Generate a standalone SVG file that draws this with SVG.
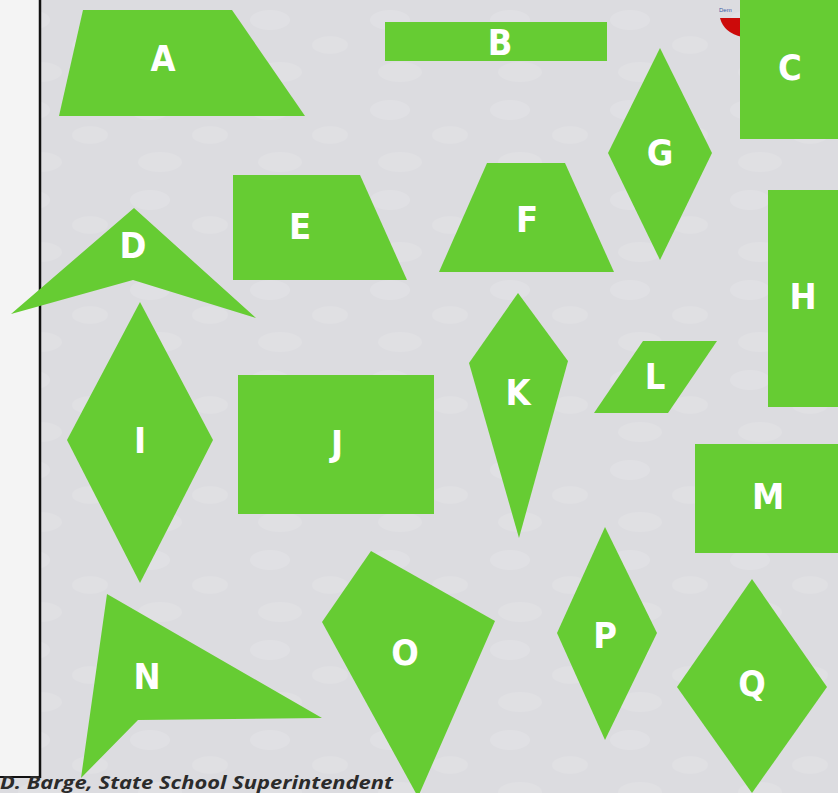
<svg xmlns="http://www.w3.org/2000/svg" width="838" height="793" viewBox="0 0 838 793">
<style>
.s{fill:#66cc33;}
.l{fill:#ffffff;font-family:"Liberation Sans Narrow","DejaVu Sans Condensed","Liberation Sans",sans-serif;font-weight:bold;font-size:36px;text-anchor:middle;dominant-baseline:central;}
.foot{fill:#2b2b2b;font-family:"Open Sans","Liberation Sans",sans-serif;font-weight:bold;font-style:italic;font-size:17px;}
</style>
<defs>
<pattern id="blobs" width="120" height="90" patternUnits="userSpaceOnUse">
<ellipse cx="30" cy="20" rx="20" ry="10" fill="#ffffff" opacity="0.12"/>
<ellipse cx="90" cy="45" rx="18" ry="9" fill="#ffffff" opacity="0.1"/>
<ellipse cx="40" cy="72" rx="22" ry="10" fill="#ffffff" opacity="0.11"/>
</pattern>
</defs>
<rect width="838" height="793" fill="#dcdce0"/>
<rect width="838" height="793" fill="url(#blobs)"/>
<g id="panel">
<rect x="0" y="0" width="40" height="777" fill="#f4f4f4"/>
<line x1="40" y1="0" x2="40" y2="778" stroke="#111" stroke-width="2.5"/>
<line x1="0" y1="777" x2="41" y2="777" stroke="#111" stroke-width="2"/>
</g>
<g id="badge">
<path d="M720,18 L742,18 L742,37 Q724,33 720,18 Z" fill="#cc0a0a"/>
<text x="719" y="12" font-family="Liberation Sans,sans-serif" font-size="6" fill="#3a5aa8">Dem</text>
</g>
<g id="A"><polygon class="s" points="83,10 232,10 305,116 59,116"/><text class="l" x="163" y="58">A</text></g>
<g id="B"><rect class="s" x="385" y="22" width="222" height="39"/><text class="l" x="500" y="42">B</text></g>
<g id="C"><rect class="s" x="740" y="0" width="98" height="139"/><text class="l" x="790" y="67">C</text></g>
<g id="G"><polygon class="s" points="660,48 712,153 660,260 608,153"/><text class="l" x="660" y="152">G</text></g>
<g id="E"><polygon class="s" points="233,175 360,175 407,280 233,280"/><text class="l" x="300" y="226">E</text></g>
<g id="F"><polygon class="s" points="487,163 565,163 614,272 439,272"/><text class="l" x="527" y="219">F</text></g>
<g id="D"><polygon class="s" points="134,208 256,318 133,280 11,314"/><text class="l" x="133" y="245">D</text></g>
<g id="H"><rect class="s" x="768" y="190" width="70" height="217"/><text class="l" x="803" y="296">H</text></g>
<g id="I"><polygon class="s" points="140,302 213,440 140,583 67,440"/><text class="l" x="140" y="440">I</text></g>
<g id="J"><rect class="s" x="238" y="375" width="196" height="139"/><text class="l" x="337" y="443">J</text></g>
<g id="K"><polygon class="s" points="518,293 568,361 519,538 469,363"/><text class="l" x="518" y="392">K</text></g>
<g id="L"><polygon class="s" points="643,341 717,341 668,413 594,413"/><text class="l" x="655" y="376">L</text></g>
<g id="M"><rect class="s" x="695" y="444" width="143" height="109"/><text class="l" x="768" y="496">M</text></g>
<g id="N"><polygon class="s" points="107,594 322,718 138,720 81,778"/><text class="l" x="147" y="676">N</text></g>
<g id="O"><polygon class="s" points="371,551 495,621 418,797 322,622"/><text class="l" x="405" y="652">O</text></g>
<g id="P"><polygon class="s" points="605,527 657,633 605,740 557,633"/><text class="l" x="605" y="635">P</text></g>
<g id="Q"><polygon class="s" points="752,579 827,687 752,793 677,687"/><text class="l" x="752" y="683">Q</text></g>
<text class="foot" x="0" y="789" textLength="393" lengthAdjust="spacingAndGlyphs">D. Barge, State School Superintendent</text>
</svg>
